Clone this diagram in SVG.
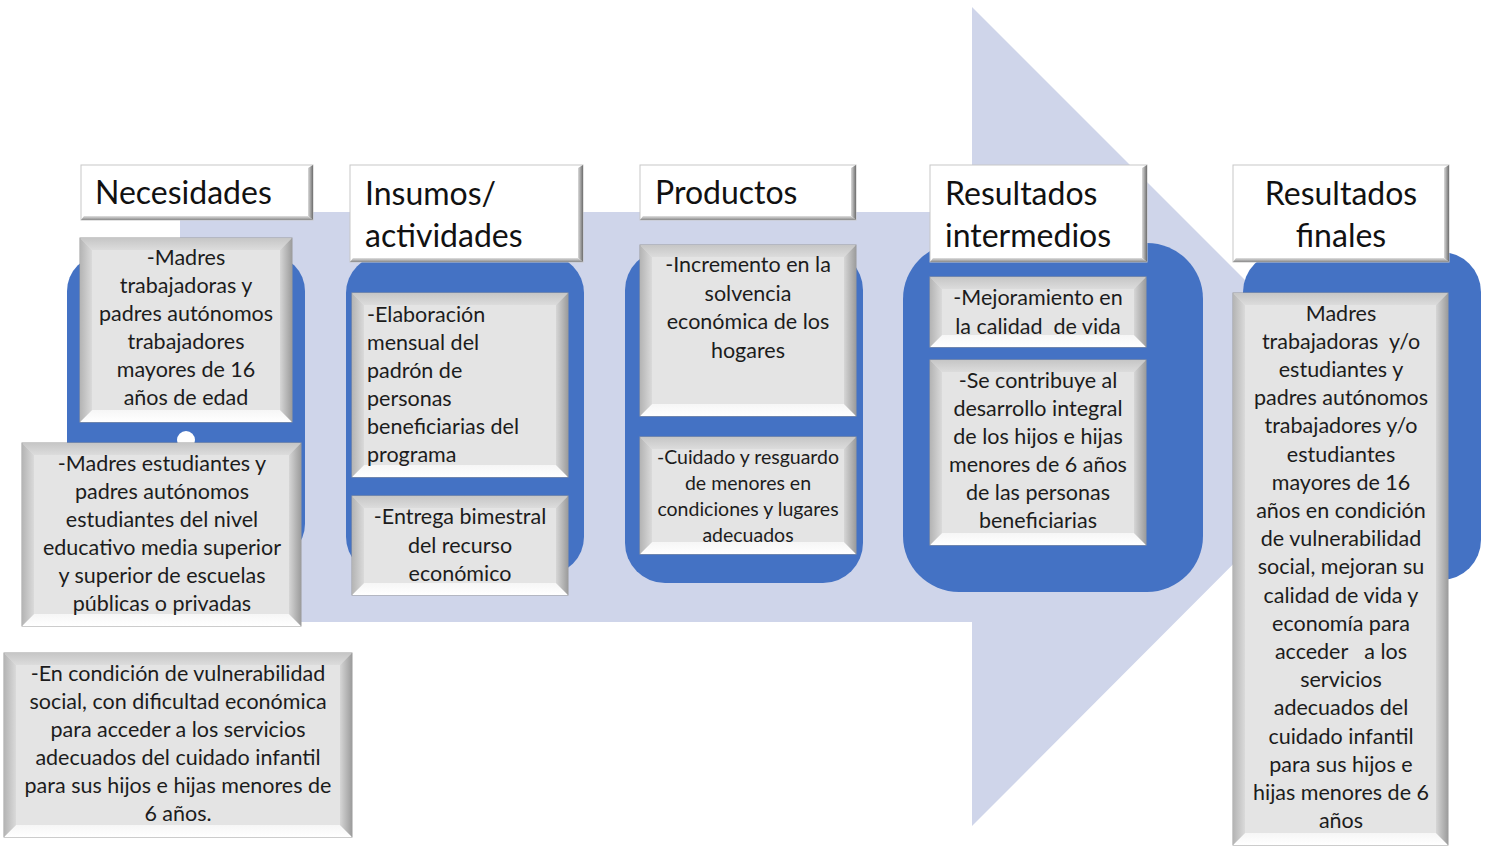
<svg xmlns="http://www.w3.org/2000/svg" width="1486" height="846" viewBox="0 0 1486 846">
<defs>
<style>
.blue{fill:#4472C4}
.hdr{fill:#FFFFFF;stroke:#C8C8C8;stroke-width:1}
.hr{fill:url(#gHR)}
.hb{fill:url(#gHB)}
.bx{fill:#E4E4E4;stroke:#9A9A9A;stroke-width:1}
.bt{fill:url(#gTop)}
.bl{fill:url(#gLeft)}
.br{fill:url(#gRight)}
.bb{fill:url(#gBot)}
.h{font-family:Lato,"Liberation Sans",sans-serif;font-size:32px;fill:#111}
.t{font-family:Lato,"Liberation Sans",sans-serif;font-size:21.5px;fill:#1c1c1c;text-anchor:middle}
.tl{font-family:Lato,"Liberation Sans",sans-serif;font-size:21.5px;fill:#1c1c1c}
.ts{font-family:Lato,"Liberation Sans",sans-serif;font-size:19.5px;fill:#1c1c1c;text-anchor:middle}
</style>
<linearGradient id="gHR" x1="0" y1="0" x2="1" y2="0"><stop offset="0" stop-color="#DADADA"/><stop offset="1" stop-color="#6E6E6E"/></linearGradient>
<linearGradient id="gHB" x1="0" y1="0" x2="0" y2="1"><stop offset="0" stop-color="#E0E0E0"/><stop offset="1" stop-color="#8A8A8A"/></linearGradient>
<linearGradient id="gTop" x1="0" y1="0" x2="0" y2="1"><stop offset="0" stop-color="#C6C6C6"/><stop offset="1" stop-color="#DCDCDC"/></linearGradient>
<linearGradient id="gLeft" x1="0" y1="0" x2="1" y2="0"><stop offset="0" stop-color="#B4B4B4"/><stop offset="1" stop-color="#DADADA"/></linearGradient>
<linearGradient id="gRight" x1="0" y1="0" x2="1" y2="0"><stop offset="0" stop-color="#D6D6D6"/><stop offset="1" stop-color="#9C9C9C"/></linearGradient>
<linearGradient id="gBot" x1="0" y1="0" x2="0" y2="1"><stop offset="0" stop-color="#F6F6F6"/><stop offset="1" stop-color="#FFFFFF"/></linearGradient>
</defs>
<rect width="1486" height="846" fill="#FFFFFF"/>

<g id="connectors">
<polygon id="big-arrow" points="180,212 972,212 972,7 1381,416 972,826 972,622 180,622" fill="#CFD5EA"/>
</g>

<g id="panels">
<rect class="blue" x="67" y="255" width="238" height="305" rx="36"/>
<rect class="blue" x="346" y="255" width="238" height="320" rx="38"/>
<rect class="blue" x="625" y="250" width="238" height="333" rx="40"/>
<rect class="blue" x="903" y="243" width="300" height="349" rx="56"/>
<rect class="blue" x="1243" y="252" width="238" height="328" rx="40"/>
<circle cx="186" cy="440" r="9" fill="#FFFFFF"/>
</g>

<g id="hdr-necesidades">
<rect class="hdr" x="81" y="165" width="232" height="55"/>
<polygon class="hr" points="308,168 313,165 313,220 308,216"/>
<polygon class="hb" points="84,216 308,216 313,220 81,220"/>
<text class="h" x="95" y="204">Necesidades</text>
</g>
<g id="hdr-insumos">
<rect class="hdr" x="350" y="165" width="233" height="97"/>
<polygon class="hr" points="578,168 583,165 583,262 578,258"/>
<polygon class="hb" points="353,258 578,258 583,262 350,262"/>
<text class="h" x="365" y="205">Insumos/</text>
<text class="h" x="365" y="247">actividades</text>
</g>
<g id="hdr-productos">
<rect class="hdr" x="640" y="165" width="216" height="55"/>
<polygon class="hr" points="851,168 856,165 856,220 851,216"/>
<polygon class="hb" points="643,216 851,216 856,220 640,220"/>
<text class="h" x="655" y="204">Productos</text>
</g>
<g id="hdr-intermedios">
<rect class="hdr" x="930" y="165" width="217" height="97"/>
<polygon class="hr" points="1142,168 1147,165 1147,262 1142,258"/>
<polygon class="hb" points="933,258 1142,258 1147,262 930,262"/>
<text class="h" x="945" y="205">Resultados</text>
<text class="h" x="945" y="247">intermedios</text>
</g>
<g id="hdr-finales">
<rect class="hdr" x="1233" y="165" width="216" height="97"/>
<polygon class="hr" points="1444,168 1449,165 1449,262 1444,258"/>
<polygon class="hb" points="1236,258 1444,258 1449,262 1233,262"/>
<text class="h" x="1341" y="205" text-anchor="middle">Resultados</text>
<text class="h" x="1341" y="247" text-anchor="middle">finales</text>
</g>

<g id="nec-1">
<rect class="bx" x="80" y="238" width="212" height="184"/>
<polygon class="bt" points="80,238 292,238 280,250 92,250"/>
<polygon class="bb" points="80,422 292,422 280,410 92,410"/>
<polygon class="bl" points="80,238 92,250 92,410 80,422"/>
<polygon class="br" points="292,238 280,250 280,410 292,422"/>
<text class="t" y="265"><tspan x="186">-Madres</tspan><tspan x="186" dy="28">trabajadoras y</tspan><tspan x="186" dy="28">padres autónomos</tspan><tspan x="186" dy="28">trabajadores</tspan><tspan x="186" dy="28">mayores de 16</tspan><tspan x="186" dy="28">años de edad</tspan></text>
</g>
<g id="nec-2">
<rect class="bx" x="22" y="443" width="279" height="183"/>
<polygon class="bt" points="22,443 301,443 289,455 34,455"/>
<polygon class="bb" points="22,626 301,626 289,614 34,614"/>
<polygon class="bl" points="22,443 34,455 34,614 22,626"/>
<polygon class="br" points="301,443 289,455 289,614 301,626"/>
<text class="t" y="471"><tspan x="162">-Madres estudiantes y</tspan><tspan x="162" dy="28">padres autónomos</tspan><tspan x="162" dy="28">estudiantes del nivel</tspan><tspan x="162" dy="28">educativo media superior</tspan><tspan x="162" dy="28">y superior de escuelas</tspan><tspan x="162" dy="28">públicas o privadas</tspan></text>
</g>
<g id="nec-3">
<rect class="bx" x="4" y="653" width="348" height="184"/>
<polygon class="bt" points="4,653 352,653 340,665 16,665"/>
<polygon class="bb" points="4,837 352,837 340,825 16,825"/>
<polygon class="bl" points="4,653 16,665 16,825 4,837"/>
<polygon class="br" points="352,653 340,665 340,825 352,837"/>
<text class="t" y="681"><tspan x="178">-En condición de vulnerabilidad</tspan><tspan x="178" dy="28">social, con dificultad económica</tspan><tspan x="178" dy="28">para acceder a los servicios</tspan><tspan x="178" dy="28">adecuados del cuidado infantil</tspan><tspan x="178" dy="28">para sus hijos e hijas menores de</tspan><tspan x="178" dy="28">6 años.</tspan></text>
</g>

<g id="ins-1">
<rect class="bx" x="352" y="293" width="216" height="184"/>
<polygon class="bt" points="352,293 568,293 556,305 364,305"/>
<polygon class="bb" points="352,477 568,477 556,465 364,465"/>
<polygon class="bl" points="352,293 364,305 364,465 352,477"/>
<polygon class="br" points="568,293 556,305 556,465 568,477"/>
<text class="tl" y="322"><tspan x="367">-Elaboración</tspan><tspan x="367" dy="28">mensual del</tspan><tspan x="367" dy="28">padrón de</tspan><tspan x="367" dy="28">personas</tspan><tspan x="367" dy="28">beneficiarias del</tspan><tspan x="367" dy="28">programa</tspan></text>
</g>
<g id="ins-2">
<rect class="bx" x="352" y="496" width="216" height="99"/>
<polygon class="bt" points="352,496 568,496 556,508 364,508"/>
<polygon class="bb" points="352,595 568,595 556,583 364,583"/>
<polygon class="bl" points="352,496 364,508 364,583 352,595"/>
<polygon class="br" points="568,496 556,508 556,583 568,595"/>
<text class="t" y="524"><tspan x="460">-Entrega bimestral</tspan><tspan x="460" dy="28.5">del recurso</tspan><tspan x="460" dy="28.5">económico</tspan></text>
</g>

<g id="prod-1">
<rect class="bx" x="640" y="245" width="216" height="171"/>
<polygon class="bt" points="640,245 856,245 844,257 652,257"/>
<polygon class="bb" points="640,416 856,416 844,404 652,404"/>
<polygon class="bl" points="640,245 652,257 652,404 640,416"/>
<polygon class="br" points="856,245 844,257 844,404 856,416"/>
<text class="t" y="272"><tspan x="748">-Incremento en la</tspan><tspan x="748" dy="28.5">solvencia</tspan><tspan x="748" dy="28.5">económica de los</tspan><tspan x="748" dy="28.5">hogares</tspan></text>
</g>
<g id="prod-2">
<rect class="bx" x="640" y="437" width="216" height="117"/>
<polygon class="bt" points="640,437 856,437 844,449 652,449"/>
<polygon class="bb" points="640,554 856,554 844,542 652,542"/>
<polygon class="bl" points="640,437 652,449 652,542 640,554"/>
<polygon class="br" points="856,437 844,449 844,542 856,554"/>
<text class="ts" y="464"><tspan x="748">-Cuidado y resguardo</tspan><tspan x="748" dy="26">de menores en</tspan><tspan x="748" dy="26">condiciones y lugares</tspan><tspan x="748" dy="26">adecuados</tspan></text>
</g>

<g id="int-1">
<rect class="bx" x="930" y="277" width="216" height="70"/>
<polygon class="bt" points="930,277 1146,277 1134,289 942,289"/>
<polygon class="bb" points="930,347 1146,347 1134,335 942,335"/>
<polygon class="bl" points="930,277 942,289 942,335 930,347"/>
<polygon class="br" points="1146,277 1134,289 1134,335 1146,347"/>
<text class="t" y="305" style="white-space:pre"><tspan x="1038">-Mejoramiento en</tspan><tspan x="1038" dy="28.5">la calidad  de vida</tspan></text>
</g>
<g id="int-2">
<rect class="bx" x="930" y="360" width="216" height="185"/>
<polygon class="bt" points="930,360 1146,360 1134,372 942,372"/>
<polygon class="bb" points="930,545 1146,545 1134,533 942,533"/>
<polygon class="bl" points="930,360 942,372 942,533 930,545"/>
<polygon class="br" points="1146,360 1134,372 1134,533 1146,545"/>
<text class="t" y="388"><tspan x="1038">-Se contribuye al</tspan><tspan x="1038" dy="28">desarrollo integral</tspan><tspan x="1038" dy="28">de los hijos e hijas</tspan><tspan x="1038" dy="28">menores de 6 años</tspan><tspan x="1038" dy="28">de las personas</tspan><tspan x="1038" dy="28">beneficiarias</tspan></text>
</g>

<g id="fin-1">
<rect class="bx" x="1233" y="293" width="215" height="552"/>
<polygon class="bt" points="1233,293 1448,293 1436,305 1245,305"/>
<polygon class="bb" points="1233,845 1448,845 1436,833 1245,833"/>
<polygon class="bl" points="1233,293 1245,305 1245,833 1233,845"/>
<polygon class="br" points="1448,293 1436,305 1436,833 1448,845"/>
<text class="t" y="320.5" style="white-space:pre"><tspan x="1341">Madres</tspan><tspan x="1341" dy="28.2">trabajadoras  y/o</tspan><tspan x="1341" dy="28.2">estudiantes y</tspan><tspan x="1341" dy="28.2">padres autónomos</tspan><tspan x="1341" dy="28.2">trabajadores y/o</tspan><tspan x="1341" dy="28.2">estudiantes</tspan><tspan x="1341" dy="28.2">mayores de 16</tspan><tspan x="1341" dy="28.2">años en condición</tspan><tspan x="1341" dy="28.2">de vulnerabilidad</tspan><tspan x="1341" dy="28.2">social, mejoran su</tspan><tspan x="1341" dy="28.2">calidad de vida y</tspan><tspan x="1341" dy="28.2">economía para</tspan><tspan x="1341" dy="28.2">acceder   a los</tspan><tspan x="1341" dy="28.2">servicios</tspan><tspan x="1341" dy="28.2">adecuados del</tspan><tspan x="1341" dy="28.2">cuidado infantil</tspan><tspan x="1341" dy="28.2">para sus hijos e</tspan><tspan x="1341" dy="28.2">hijas menores de 6</tspan><tspan x="1341" dy="28.2">años</tspan></text>
</g>
</svg>
